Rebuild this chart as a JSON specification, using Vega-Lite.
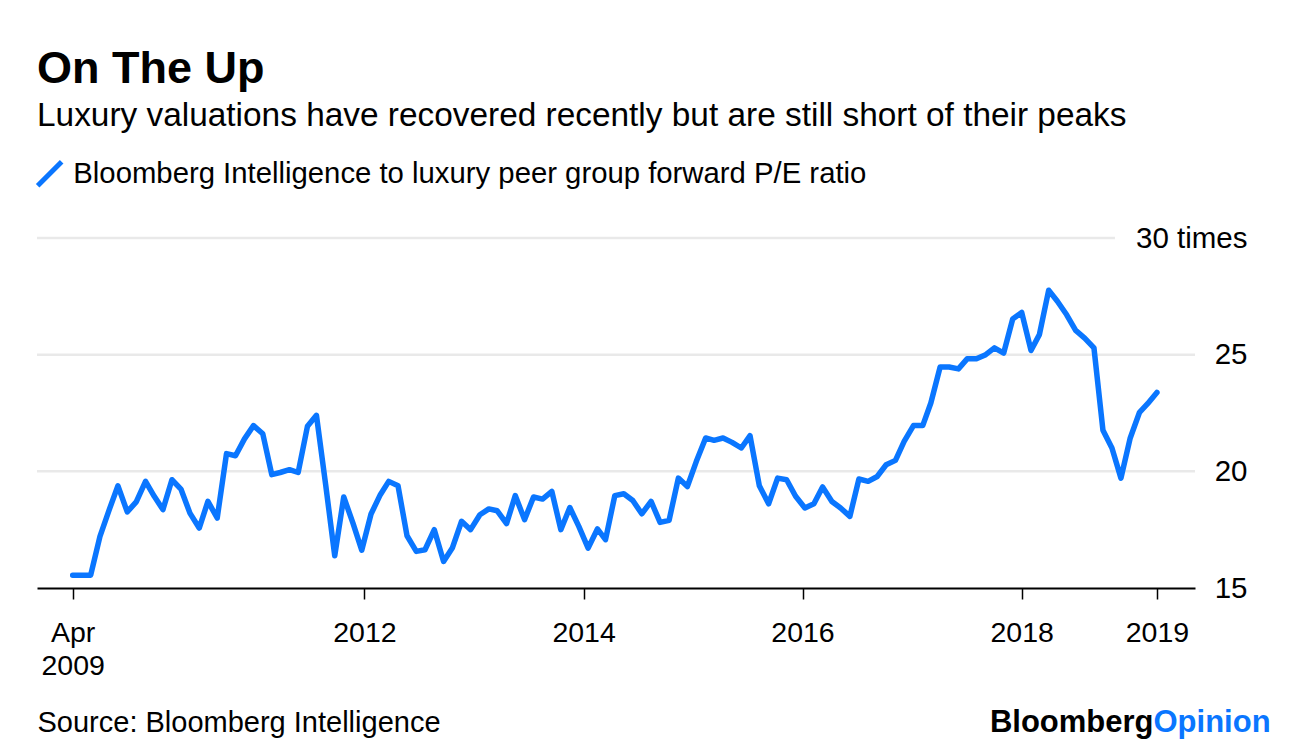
{
  "$schema": "https://vega.github.io/schema/vega-lite/v6.json",
  "width": 1158,
  "height": 350,
  "autosize": {"type": "none"},
  "padding": {"left": 37, "top": 238, "right": 101, "bottom": 166},
  "background": "white",
  "config": {"view": {"stroke": null}, "font": "Liberation Sans"},
  "title": {
    "text": "On The Up",
    "subtitle": "Luxury valuations have recovered recently but are still short of their peaks",
    "anchor": "start",
    "frame": "group",
    "font": "Liberation Sans",
    "fontSize": 45,
    "fontWeight": "bold",
    "color": "#000000",
    "subtitleFont": "Liberation Sans",
    "subtitleFontSize": 33.4,
    "subtitleColor": "#000000",
    "subtitlePadding": 8,
    "offset": 27
  },
  "datasets": {
    "grid": [
      {"date": "2009-01-04", "end": "2019-08-02", "v": 20},
      {"date": "2009-01-04", "end": "2019-08-02", "v": 25},
      {"date": "2009-01-04", "end": "2018-11-08", "v": 30}
    ],
    "pe": [
      {"date": "2009-05-03", "v": 15.55},
      {"date": "2009-06-02", "v": 15.55},
      {"date": "2009-07-02", "v": 15.55},
      {"date": "2009-08-02", "v": 17.21},
      {"date": "2009-09-02", "v": 18.36},
      {"date": "2009-10-01", "v": 19.38},
      {"date": "2009-11-01", "v": 18.26},
      {"date": "2009-12-01", "v": 18.69},
      {"date": "2010-01-01", "v": 19.57},
      {"date": "2010-01-30", "v": 18.93},
      {"date": "2010-02-28", "v": 18.36},
      {"date": "2010-03-30", "v": 19.64},
      {"date": "2010-04-29", "v": 19.24},
      {"date": "2010-05-29", "v": 18.21},
      {"date": "2010-06-29", "v": 17.57},
      {"date": "2010-07-28", "v": 18.71},
      {"date": "2010-08-28", "v": 18.0},
      {"date": "2010-09-28", "v": 20.76},
      {"date": "2010-10-28", "v": 20.67},
      {"date": "2010-11-27", "v": 21.39},
      {"date": "2010-12-27", "v": 21.96},
      {"date": "2011-01-27", "v": 21.61},
      {"date": "2011-02-26", "v": 19.86},
      {"date": "2011-03-26", "v": 19.95},
      {"date": "2011-04-26", "v": 20.07},
      {"date": "2011-05-25", "v": 19.95},
      {"date": "2011-06-25", "v": 21.93},
      {"date": "2011-07-25", "v": 22.4},
      {"date": "2011-08-25", "v": 19.4},
      {"date": "2011-09-24", "v": 16.38},
      {"date": "2011-10-24", "v": 18.9},
      {"date": "2011-11-24", "v": 17.77},
      {"date": "2011-12-23", "v": 16.62},
      {"date": "2012-01-23", "v": 18.17},
      {"date": "2012-02-23", "v": 19.0},
      {"date": "2012-03-22", "v": 19.57},
      {"date": "2012-04-22", "v": 19.38},
      {"date": "2012-05-22", "v": 17.24},
      {"date": "2012-06-22", "v": 16.57},
      {"date": "2012-07-21", "v": 16.64},
      {"date": "2012-08-21", "v": 17.5},
      {"date": "2012-09-21", "v": 16.14},
      {"date": "2012-10-20", "v": 16.71},
      {"date": "2012-11-20", "v": 17.86},
      {"date": "2012-12-20", "v": 17.5},
      {"date": "2013-01-20", "v": 18.14},
      {"date": "2013-02-19", "v": 18.39},
      {"date": "2013-03-19", "v": 18.31},
      {"date": "2013-04-19", "v": 17.76},
      {"date": "2013-05-18", "v": 18.96},
      {"date": "2013-06-18", "v": 17.93},
      {"date": "2013-07-18", "v": 18.9},
      {"date": "2013-08-17", "v": 18.81},
      {"date": "2013-09-17", "v": 19.14},
      {"date": "2013-10-17", "v": 17.5},
      {"date": "2013-11-16", "v": 18.45},
      {"date": "2013-12-16", "v": 17.64},
      {"date": "2014-01-16", "v": 16.71},
      {"date": "2014-02-16", "v": 17.53},
      {"date": "2014-03-15", "v": 17.07},
      {"date": "2014-04-15", "v": 18.96},
      {"date": "2014-05-15", "v": 19.04},
      {"date": "2014-06-14", "v": 18.75},
      {"date": "2014-07-14", "v": 18.18},
      {"date": "2014-08-14", "v": 18.71},
      {"date": "2014-09-13", "v": 17.81},
      {"date": "2014-10-13", "v": 17.9},
      {"date": "2014-11-13", "v": 19.71},
      {"date": "2014-12-13", "v": 19.35},
      {"date": "2015-01-12", "v": 20.43},
      {"date": "2015-02-12", "v": 21.43},
      {"date": "2015-03-12", "v": 21.33},
      {"date": "2015-04-11", "v": 21.43},
      {"date": "2015-05-11", "v": 21.24},
      {"date": "2015-06-11", "v": 21.0},
      {"date": "2015-07-10", "v": 21.53},
      {"date": "2015-08-10", "v": 19.38},
      {"date": "2015-09-10", "v": 18.61},
      {"date": "2015-10-10", "v": 19.71},
      {"date": "2015-11-09", "v": 19.64},
      {"date": "2015-12-09", "v": 18.93},
      {"date": "2016-01-09", "v": 18.43},
      {"date": "2016-02-08", "v": 18.61},
      {"date": "2016-03-08", "v": 19.33},
      {"date": "2016-04-08", "v": 18.71},
      {"date": "2016-05-07", "v": 18.43},
      {"date": "2016-06-07", "v": 18.07},
      {"date": "2016-07-07", "v": 19.67},
      {"date": "2016-08-07", "v": 19.57},
      {"date": "2016-09-06", "v": 19.78},
      {"date": "2016-10-06", "v": 20.28},
      {"date": "2016-11-06", "v": 20.47},
      {"date": "2016-12-05", "v": 21.28},
      {"date": "2017-01-05", "v": 21.96},
      {"date": "2017-02-05", "v": 21.96},
      {"date": "2017-03-04", "v": 22.93},
      {"date": "2017-04-04", "v": 24.47},
      {"date": "2017-05-04", "v": 24.47},
      {"date": "2017-06-04", "v": 24.39},
      {"date": "2017-07-03", "v": 24.82},
      {"date": "2017-08-03", "v": 24.82},
      {"date": "2017-09-03", "v": 25.0},
      {"date": "2017-10-02", "v": 25.29},
      {"date": "2017-11-02", "v": 25.07},
      {"date": "2017-12-02", "v": 26.53},
      {"date": "2018-01-01", "v": 26.81},
      {"date": "2018-02-01", "v": 25.18},
      {"date": "2018-03-01", "v": 25.86},
      {"date": "2018-04-01", "v": 27.76},
      {"date": "2018-04-30", "v": 27.29},
      {"date": "2018-05-31", "v": 26.71},
      {"date": "2018-06-30", "v": 26.04},
      {"date": "2018-07-30", "v": 25.71},
      {"date": "2018-08-30", "v": 25.29},
      {"date": "2018-09-29", "v": 21.76},
      {"date": "2018-10-29", "v": 21.0},
      {"date": "2018-11-28", "v": 19.71},
      {"date": "2018-12-29", "v": 21.43},
      {"date": "2019-01-29", "v": 22.53},
      {"date": "2019-02-25", "v": 22.9},
      {"date": "2019-03-28", "v": 23.38}
    ]
  },
  "encoding": {
    "x": {
      "field": "date",
      "type": "temporal",
      "scale": {
        "domain": [
          {"year": 2009, "month": 1, "date": 4, "utc": true},
          {"year": 2019, "month": 8, "date": 2, "utc": true}
        ],
        "nice": false
      },
      "axis": {
        "values": [
          {"year": 2009, "month": 5, "date": 3, "utc": true},
          {"year": 2012, "month": 1, "date": 1, "utc": true},
          {"year": 2014, "month": 1, "date": 1, "utc": true},
          {"year": 2016, "month": 1, "date": 1, "utc": true},
          {"year": 2018, "month": 1, "date": 1, "utc": true},
          {"year": 2019, "month": 3, "date": 28, "utc": true}
        ],
        "labelExpr": "utcyear(datum.value) == 2009 ? ['Apr', '2009'] : utcFormat(datum.value, '%Y')",
        "labelFont": "Liberation Sans",
        "labelFontSize": 28.5,
        "labelColor": "#000000",
        "labelFlush": false,
        "labelOverlap": false,
        "labelPadding": 19,
        "labelLineHeight": 33,
        "tickSize": 11,
        "tickWidth": 1.5,
        "tickColor": "#000000",
        "domainColor": "#000000",
        "domainWidth": 2,
        "grid": false,
        "title": "Source: Bloomberg Intelligence",
        "titleX": 0,
        "titleY": 143,
        "titleAlign": "left",
        "titleBaseline": "alphabetic",
        "titleFont": "Liberation Sans",
        "titleFontSize": 29,
        "titleFontWeight": "normal",
        "titleColor": "#000000"
      }
    }
  },
  "layer": [
    {
      "data": {"name": "grid"},
      "mark": {"type": "rule", "color": "#e9e9e9", "strokeWidth": 2.5},
      "encoding": {
        "x2": {"field": "end"},
        "y": {
          "field": "v",
          "type": "quantitative",
          "scale": {"domain": [15, 30], "nice": false, "zero": false},
          "axis": {
            "orient": "right",
            "values": [15, 20, 25, 30],
            "labelExpr": "datum.value == 30 ? '30 times' : datum.label",
            "grid": false,
            "domain": false,
            "ticks": false,
            "tickSize": 0,
            "labelPadding": 52,
            "labelAlign": "right",
            "labelBaseline": "middle",
            "labelFont": "Liberation Sans",
            "labelFontSize": 29.5,
            "labelColor": "#000000",
            "labelOverlap": false,
            "labelFlush": false,
            "title": "Bloomberg",
            "titleX": -42,
            "titleY": 493,
            "titleAngle": 0,
            "titleAlign": "right",
            "titleBaseline": "alphabetic",
            "titleFont": "Liberation Sans",
            "titleFontSize": 31,
            "titleFontWeight": "bold",
            "titleColor": "#000000"
          }
        }
      }
    },
    {
      "data": {"name": "pe"},
      "mark": {"type": "line", "strokeWidth": 5.5, "strokeCap": "round", "strokeJoin": "round"},
      "encoding": {
        "y": {
          "field": "v",
          "type": "quantitative",
          "scale": {"domain": [15, 30], "nice": false, "zero": false},
          "axis": {
            "orient": "right",
            "labels": false,
            "grid": false,
            "domain": false,
            "ticks": false,
            "title": "Opinion",
            "titleX": -42,
            "titleY": 493,
            "titleAngle": 0,
            "titleAlign": "left",
            "titleBaseline": "alphabetic",
            "titleFont": "Liberation Sans",
            "titleFontSize": 31,
            "titleFontWeight": "bold",
            "titleColor": "#0a76ff"
          }
        },
        "color": {
          "datum": "Bloomberg Intelligence to luxury peer group forward P/E ratio",
          "scale": {"range": ["#0a76ff"]},
          "legend": {
            "orient": "none",
            "legendX": -2,
            "legendY": -79,
            "title": null,
            "padding": 0,
            "symbolType": "M-1,1L1,-1",
            "symbolSize": 576,
            "symbolStrokeWidth": 5,
            "labelFont": "Liberation Sans",
            "labelFontSize": 29.3,
            "labelColor": "#000000",
            "labelOffset": 9,
            "labelLimit": 0
          }
        }
      }
    }
  ],
  "resolve": {"axis": {"y": "independent"}}
}
